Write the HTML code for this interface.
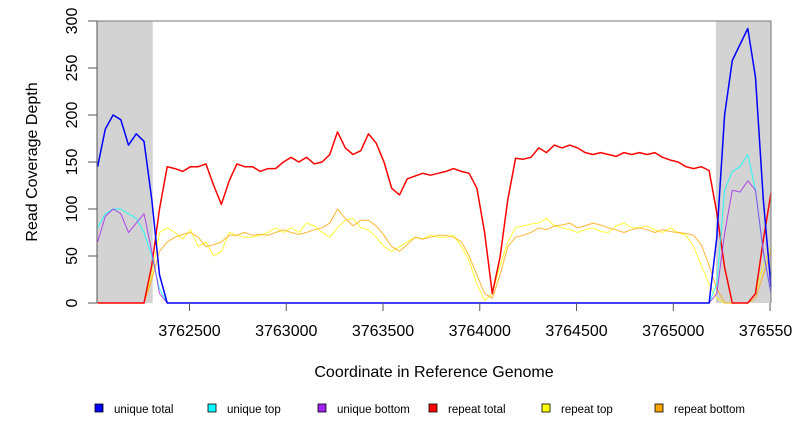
<!DOCTYPE html>
<html><head><meta charset="utf-8"><style>
body{margin:0;background:#fff}
svg{display:block;font-family:"Liberation Sans",sans-serif}
</style></head><body>
<svg id="chart" width="792" height="432" viewBox="0 0 792 432">
<g id="shade"></g><g id="series"></g><g id="axes"></g><g id="legend"></g>
</svg>
<script>
const xStart = 3762025, xStep = 40;
const xTicks = [3762500,3763000,3763500,3764000,3764500,3765000,3765500];
const yTicks = [0,50,100,150,200,250,300];
const shadeRegions = [[3762022,3762310],[3765220,3765505]];
const uniqueTotal = [145,185,200,195,168,180,172,110,30,0,0,0,0,0,0,0,0,0,0,0,0,0,0,0,0,0,0,0,0,0,0,0,0,0,0,0,0,0,0,0,0,0,0,0,0,0,0,0,0,0,0,0,0,0,0,0,0,0,0,0,0,0,0,0,0,0,0,0,0,0,0,0,0,0,0,0,0,0,0,0,70,200,258,275,292,240,110,17];
const uniqueTop = [80,95,100,100,95,90,75,50,15,0,0,0,0,0,0,0,0,0,0,0,0,0,0,0,0,0,0,0,0,0,0,0,0,0,0,0,0,0,0,0,0,0,0,0,0,0,0,0,0,0,0,0,0,0,0,0,0,0,0,0,0,0,0,0,0,0,0,0,0,0,0,0,0,0,0,0,0,0,0,0,20,120,140,145,158,120,53,10];
const uniqueBottom = [65,92,100,95,75,85,95,55,10,0,0,0,0,0,0,0,0,0,0,0,0,0,0,0,0,0,0,0,0,0,0,0,0,0,0,0,0,0,0,0,0,0,0,0,0,0,0,0,0,0,0,0,0,0,0,0,0,0,0,0,0,0,0,0,0,0,0,0,0,0,0,0,0,0,0,0,0,0,0,0,10,74,120,118,130,120,55,10];
const repeatTotal = [0,0,0,0,0,0,0,40,100,145,143,140,145,145,148,125,105,130,148,145,145,140,143,143,150,155,150,155,148,150,158,182,165,158,162,180,170,150,122,115,132,135,138,136,138,140,143,140,138,122,75,10,49,110,154,153,155,165,160,168,165,168,165,160,158,160,158,156,160,158,160,158,160,155,152,150,145,143,145,141,96,38,0,0,0,10,67,117];
const repeatTop = [0,0,0,0,0,0,0,30,75,80,75,68,78,60,65,50,55,75,72,70,70,72,75,80,75,80,75,85,82,75,70,80,88,90,80,78,70,60,55,60,65,70,68,72,70,70,72,60,45,20,3,10,40,65,80,82,84,85,90,82,80,78,75,78,80,76,75,82,85,80,80,82,78,75,80,75,72,60,40,20,5,0,0,0,0,10,40,60];
const repeatBottom = [0,0,0,0,0,0,0,25,55,65,70,73,75,70,60,62,65,72,72,75,72,73,72,75,78,75,73,75,78,80,85,100,90,82,88,88,82,72,60,55,62,70,68,70,72,72,70,65,50,30,10,5,30,60,70,72,75,80,78,82,83,85,80,82,85,83,80,78,75,78,80,78,75,78,76,75,74,72,62,40,15,0,0,0,0,5,30,55];
const seriesNames = ["unique total","unique top","unique bottom","repeat total","repeat top","repeat bottom"];
const seriesColors = ["#0000ff","#00ffff","#a020f0","#ff0000","#ffff00","#ffa500"];

const L=97,R=771,T=21,B=303, XMIN=3762022, XMAX=3765505, YMAX=300;
const sx = v => L + (v-XMIN)/(XMAX-XMIN)*(R-L);
const sy = v => B - v/YMAX*(B-T);
const NS="http://www.w3.org/2000/svg";
function mk(tag, attrs, parent){const e=document.createElementNS(NS,tag);for(const k in attrs)e.setAttribute(k,attrs[k]);parent.appendChild(e);return e;}

const shade=document.getElementById('shade');
shadeRegions.forEach(r=>{
  const e=mk('rect',{x:sx(r[0]),y:T,width:sx(r[1])-sx(r[0]),height:B-T,fill:'#d3d3d3'},shade);
  
  
});

const sg=document.getElementById('series');
const allSeries=[repeatTop,repeatBottom,repeatTotal,uniqueTop,uniqueBottom,uniqueTotal];
const order=[4,5,3,1,2,0];
allSeries.forEach((arr,k)=>{
  const idx=order[k];
  const pts=arr.map((v,i)=>sx(xStart+i*xStep).toFixed(1)+','+sy(v).toFixed(1)).join(' ');
  const e=mk('polyline',{points:pts,fill:'none',stroke:seriesColors[idx],'stroke-width':(idx===0||idx===3)?1.5:1,'stroke-linejoin':'round','stroke-opacity':(idx===0||idx===3)?1:0.8},sg);
  
  
});

const ax=document.getElementById('axes');
mk('polyline',{points:`${L},${T} ${R},${T} ${R},${B}`,fill:'none',stroke:'#777','stroke-width':1},ax);
mk('line',{x1:L,y1:T,x2:L,y2:B,stroke:'#555','stroke-width':1},ax);
xTicks.forEach(t=>{
  const x=sx(t);
  mk('line',{x1:x,y1:B,x2:x,y2:B+8,stroke:'#555'},ax);
  const tx=mk('text',{x:x,y:336,'font-size':16,'text-anchor':'middle',fill:'#000'},ax);
  tx.textContent=t;
  
  
});
yTicks.forEach(t=>{
  const y=sy(t);
  mk('line',{x1:L-9,y1:y,x2:L,y2:y,stroke:'#555'},ax);
  const tx=mk('text',{x:0,y:0,'font-size':16,'text-anchor':'middle',fill:'#000',transform:`translate(77,${y}) rotate(-90)`},ax);
  tx.textContent=t;
  
  
});
const xt=mk('text',{x:434,y:377,'font-size':16,'text-anchor':'middle'},ax);
xt.textContent='Coordinate in Reference Genome';


const yt=mk('text',{x:0,y:0,'font-size':16,'text-anchor':'middle',transform:'translate(37,162) rotate(-90)'},ax);
yt.textContent='Read Coverage Depth';



const lg=document.getElementById('legend');
const lx=[95,208,318,429,542,655];
seriesNames.forEach((n,i)=>{
  const g=mk('g',{},lg);
  
  
  mk('rect',{x:lx[i],y:404,width:8,height:8,fill:seriesColors[i],stroke:'#000','stroke-width':0.8},g);
  const t=mk('text',{x:lx[i]+19,y:413,'font-size':11.5},g);
  t.textContent=n;
});
</script>
</body></html>
